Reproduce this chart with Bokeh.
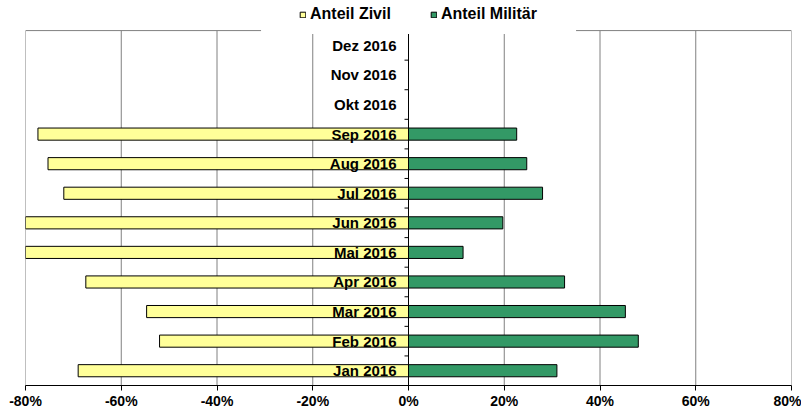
import numpy as np
from bokeh.plotting import figure
from bokeh.models import FixedTicker, Legend, LegendItem, ColumnDataSource, BoxAnnotation
from bokeh.core.properties import value
from bokeh.embed import file_html
from bokeh.resources import INLINE

months = ["Jan 2016", "Feb 2016", "Mar 2016", "Apr 2016", "Mai 2016", "Jun 2016",
          "Jul 2016", "Aug 2016", "Sep 2016", "Okt 2016", "Nov 2016", "Dez 2016"]
anteil_zivil = [69.0, 52.0, 54.7, 67.4, 88.6, 80.3, 72.0, 75.3, 77.4, None, None, None]
anteil_militaer = [31.0, 48.0, 45.3, 32.6, 11.4, 19.7, 28.0, 24.7, 22.6, None, None, None]
x_ticks = [-80, -60, -40, -20, 0, 20, 40, 60, 80]
x_tick_labels = ["-80%", "-60%", "-40%", "-20%", "0%", "20%", "40%", "60%", "80%"]

FONT = "Liberation Sans"
ZIVIL_COLOR = "#FFFF99"
MIL_COLOR = "#339966"
GRID_COLOR = "#808080"

# layout (pixels)
PLOT_H = 354      # height of the plot area (categories)
TOP_PAD = 30      # space above plot area reserved for the legend
n = len(months)
y_start = -0.5
y_plot_end = n - 0.5
y_end = y_plot_end + n * TOP_PAD / PLOT_H
px_y = n / PLOT_H  # data units per pixel (vertical)

idx = list(range(n))
zivil_left = [(-v if v is not None else np.nan) for v in anteil_zivil]
mil_right = [(v if v is not None else np.nan) for v in anteil_militaer]

src = ColumnDataSource(dict(y=idx, zl=zivil_left, mr=mil_right, label=months,
                            zero=[0] * n))

p = figure(width=801, height=411, output_backend="svg", toolbar_location=None,
           x_range=(x_ticks[0], x_ticks[-1]), y_range=(y_start, y_end),
           min_border_left=25, min_border_right=10, min_border_top=0, min_border_bottom=0)

p.background_fill_color = "white"
p.border_fill_color = "white"
p.outline_line_color = None
p.xgrid.visible = False
p.ygrid.visible = False

# vertical grid lines, limited to the plot area
p.segment(x0=x_ticks, x1=x_ticks, y0=[y_start] * len(x_ticks), y1=[y_plot_end] * len(x_ticks),
          line_color=GRID_COLOR, line_width=1)
# top border of plot area
p.segment(x0=[x_ticks[0]], x1=[x_ticks[-1]], y0=[y_plot_end], y1=[y_plot_end],
          line_color=GRID_COLOR, line_width=1)

# bars
r_z = p.hbar(y="y", left="zl", right="zero", height=0.41, source=src,
             fill_color=ZIVIL_COLOR, line_color="black", line_width=1)
r_m = p.hbar(y="y", left="zero", right="mr", height=0.41, source=src,
             fill_color=MIL_COLOR, line_color="black", line_width=1)

# category axis at zero
p.segment(x0=[0], x1=[0], y0=[y_start], y1=[y_plot_end], line_color="black", line_width=1)
bounds = [i - 0.5 for i in idx[1:]]
p.ray(x=[0] * len(bounds), y=bounds, length=4, length_units="screen",
      angle=np.pi, line_color="black", line_width=1)

p.text(x="zero", y="y", text="label", source=src, x_offset=-12,
       text_align="right", text_baseline="middle",
       text_font=value(FONT), text_font_style="bold", text_font_size="15px",
       text_color="black")

# white legend box area (covers the top border behind the legend)
p.add_layout(BoxAnnotation(left=-30.8, right=35.0, bottom=y_plot_end - 3.5 * px_y, top=None,
                           fill_color="white", fill_alpha=1.0, line_color=None,
                           line_alpha=0))

# x axis
p.xaxis.ticker = FixedTicker(ticks=x_ticks)
p.xaxis.major_label_overrides = {t: l for t, l in zip(x_ticks, x_tick_labels)}
p.xaxis.major_label_text_font = FONT
p.xaxis.major_label_text_font_style = "bold"
p.xaxis.major_label_text_font_size = "14px"
p.xaxis.major_label_text_color = "black"
p.xaxis.axis_line_color = "black"
p.xaxis.major_tick_line_color = "black"
p.xaxis.major_tick_out = 5
p.xaxis.major_tick_in = 0
p.xaxis.minor_tick_line_color = None
p.xaxis.major_label_standoff = 2
p.yaxis.visible = False

legend = Legend(items=[LegendItem(label="Anteil Zivil", renderers=[r_z]),
                       LegendItem(label="Anteil Militär", renderers=[r_m])],
                orientation="horizontal", location=(274, PLOT_H + TOP_PAD - 22),
                glyph_width=7, glyph_height=7, label_standoff=4, spacing=39,
                padding=11, margin=0,
                label_text_font=FONT, label_text_font_style="bold",
                label_text_font_size="16px", label_text_color="black",
                background_fill_color="white", background_fill_alpha=0.0,
                border_line_color=None)
p.add_layout(legend, "center")

open("out.html", "w").write(file_html(p, INLINE))
